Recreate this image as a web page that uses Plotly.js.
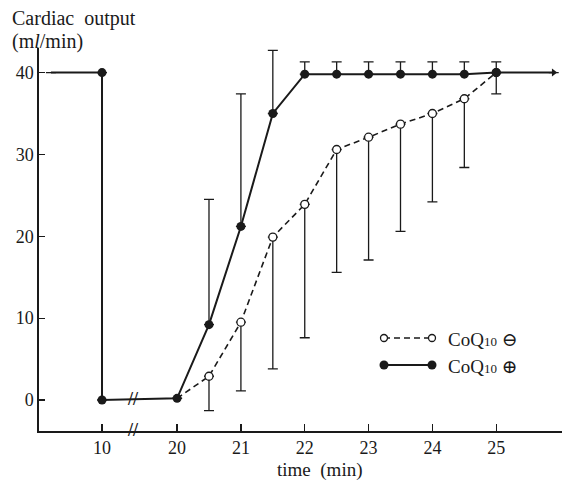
<!DOCTYPE html>
<html>
<head>
<meta charset="utf-8">
<script src="https://cdn.plot.ly/plotly-3.0.1.min.js"></script>
<style>html,body{margin:0;padding:0;background:#fff;}#chart{width:572px;height:481px;}</style>
</head>
<body>
<div id="chart"></div>
<script>
// ---------- data (time in minutes, cardiac output in ml/min) ----------
var plusTime   = [9.2, 10, 10, 20, 20.5, 21, 21.5, 22, 22.5, 23, 23.5, 24, 24.5, 25, 25.9];
var plusValue  = [40, 40, 0, 0.2, 9.2, 21.2, 35.0, 39.8, 39.8, 39.8, 39.8, 39.8, 39.8, 40.0, 40.0];
var plusUpper  = [null, null, null, null, 24.5, 37.4, 42.7, 41.3, 41.3, 41.3, 41.3, 41.3, 41.3, 41.3, null];

var minusTime  = [20, 20.5, 21, 21.5, 22, 22.5, 23, 23.5, 24, 24.5, 25];
var minusValue = [0.2, 2.9, 9.5, 19.9, 23.9, 30.6, 32.1, 33.7, 35.0, 36.8, 40.0];
var minusLower = [null, -1.3, 1.1, 3.8, 7.6, 15.6, 17.1, 20.6, 24.2, 28.4, 37.4];

var xTickTimes  = [10, 20, 21, 22, 23, 24, 25];
var xTickLabels = ['10', '20', '21', '22', '23', '24', '25'];
var yTickVals   = [0, 10, 20, 30, 40];
var yTickLabels = ['0', '10', '20', '30', '40'];

// ---------- broken time axis: times before the break are shifted ----------
var BREAK_SHIFT = 8.824;
function pos(t) { return t <= 10 ? t + BREAK_SHIFT : t; }

var plusX  = plusTime.map(pos);
var minusX = minusTime.map(pos);
var plusErr  = plusUpper.map(function (u, i) { return u == null ? 0 : u - plusValue[i]; });
var minusErr = minusLower.map(function (l, i) { return l == null ? 0 : minusValue[i] - l; });
var zeros = function (n) { var a = []; for (var i = 0; i < n; i++) a.push(0); return a; };

var plusSizes = plusTime.map(function (t, i) {
  if (i === 0) return 0;
  if (i === plusTime.length - 1) return 7;
  return 9;
});
var plusSymbols = plusTime.map(function (t, i) {
  return i === plusTime.length - 1 ? 'triangle-right' : 'circle';
});
var minusSizes = minusTime.map(function (t, i) { return i === 0 ? 0 : 8; });

var INK = '#1a1a1a';
var SERIF = 'Liberation Serif, Times New Roman, DejaVu Serif, serif';

var traces = [
  {
    name: 'CoQ10 ⊖',
    x: minusX, y: minusValue, type: 'scatter', mode: 'lines+markers',
    line: {color: INK, width: 1.6, dash: '6px,4px'},
    marker: {symbol: 'circle', size: minusSizes, opacity: 1, color: '#ffffff', line: {color: INK, width: 1.3}},
    error_y: {type: 'data', symmetric: false, array: zeros(minusTime.length), arrayminus: minusErr,
              color: INK, thickness: 1.3, width: 5},
    showlegend: false, cliponaxis: false
  },
  {
    name: 'CoQ10 ⊕',
    x: plusX, y: plusValue, type: 'scatter', mode: 'lines+markers',
    line: {color: INK, width: 2},
    marker: {symbol: plusSymbols, size: plusSizes, opacity: 1, color: INK, line: {width: 0}},
    error_y: {type: 'data', symmetric: false, array: plusErr, arrayminus: zeros(plusTime.length),
              color: INK, thickness: 1.3, width: 5},
    showlegend: false, cliponaxis: false
  }
];

// pixel helpers for decorations (plot area: x 39..562, y 48..431)
var L = 39, R = 562, T = 48, B = 431;
function px(x) { return (x - L) / (R - L); }
function py(y) { return (B - y) / (B - T); }

var shapes = [
  // legend samples
  {type: 'line', xref: 'paper', yref: 'paper', x0: px(384), x1: px(432), y0: py(338), y1: py(338),
   line: {color: INK, width: 1.6, dash: '6px,4px'}},
  {type: 'circle', xref: 'paper', yref: 'paper', x0: px(380.5), x1: px(387.5), y0: py(334.5), y1: py(341.5),
   line: {color: INK, width: 1.3}, fillcolor: '#fff'},
  {type: 'circle', xref: 'paper', yref: 'paper', x0: px(428.5), x1: px(435.5), y0: py(334.5), y1: py(341.5),
   line: {color: INK, width: 1.3}, fillcolor: '#fff'},
  {type: 'line', xref: 'paper', yref: 'paper', x0: px(384), x1: px(432), y0: py(365), y1: py(365),
   line: {color: INK, width: 2}},
  {type: 'circle', xref: 'paper', yref: 'paper', x0: px(379.5), x1: px(388.5), y0: py(360.5), y1: py(369.5),
   line: {color: INK, width: 0}, fillcolor: INK},
  {type: 'circle', xref: 'paper', yref: 'paper', x0: px(427.5), x1: px(436.5), y0: py(360.5), y1: py(369.5),
   line: {color: INK, width: 0}, fillcolor: INK}
];

var annotations = [
  {text: 'Cardiac&nbsp;&nbsp;output', xref: 'paper', yref: 'paper', x: px(10), y: py(18), xanchor: 'left', yanchor: 'middle',
   showarrow: false, font: {family: SERIF, size: 20, color: INK}},
  {text: '(m<i>l</i>/min)', xref: 'paper', yref: 'paper', x: px(10), y: py(41), xanchor: 'left', yanchor: 'middle',
   showarrow: false, font: {family: SERIF, size: 20, color: INK}},
  {text: 'time&nbsp;&nbsp;(min)', xref: 'paper', yref: 'paper', x: px(319), y: py(470), xanchor: 'center', yanchor: 'middle',
   showarrow: false, font: {family: SERIF, size: 19, color: INK}},
  {text: 'CoQ<span style="font-size:13px">10</span> ⊖', xref: 'paper', yref: 'paper', x: px(446), y: py(339),
   xanchor: 'left', yanchor: 'middle', showarrow: false, font: {family: SERIF, size: 19, color: INK}},
  {text: 'CoQ<span style="font-size:13px">10</span> ⊕', xref: 'paper', yref: 'paper', x: px(446), y: py(366),
   xanchor: 'left', yanchor: 'middle', showarrow: false, font: {family: SERIF, size: 19, color: INK}},
  // axis-break marks
  {text: '<b>//</b>', xref: 'paper', yref: 'paper', x: px(133), y: py(430), xanchor: 'center', yanchor: 'middle',
   showarrow: false, font: {family: SERIF, size: 18, color: INK}},
  {text: '<b>//</b>', xref: 'paper', yref: 'paper', x: px(133), y: py(399), xanchor: 'center', yanchor: 'middle',
   showarrow: false, font: {family: SERIF, size: 18, color: INK}}
];

var layout = {
  width: 572, height: 481,
  margin: {l: L, r: 572 - R, t: T, b: 481 - B, pad: 0},
  paper_bgcolor: '#ffffff', plot_bgcolor: '#ffffff',
  showlegend: false,
  xaxis: {
    range: [17.837, 26.03], showgrid: false, zeroline: false,
    showline: true, linecolor: INK, linewidth: 1.6,
    ticks: 'inside', ticklen: 7, tickwidth: 1.2, tickcolor: INK,
    tickvals: xTickTimes.map(pos), ticktext: xTickLabels,
    tickfont: {family: SERIF, size: 18, color: INK}
  },
  yaxis: {
    range: [-3.79, 43.0], showgrid: false, zeroline: false,
    showline: true, linecolor: INK, linewidth: 1.6,
    ticks: 'inside', ticklen: 6, tickwidth: 1.2, tickcolor: INK,
    tickvals: yTickVals, ticktext: yTickLabels,
    tickfont: {family: SERIF, size: 18, color: INK}
  },
  shapes: shapes,
  annotations: annotations
};

Plotly.newPlot('chart', traces, layout, {staticPlot: true, displayModeBar: false});
</script>
</body>
</html>
